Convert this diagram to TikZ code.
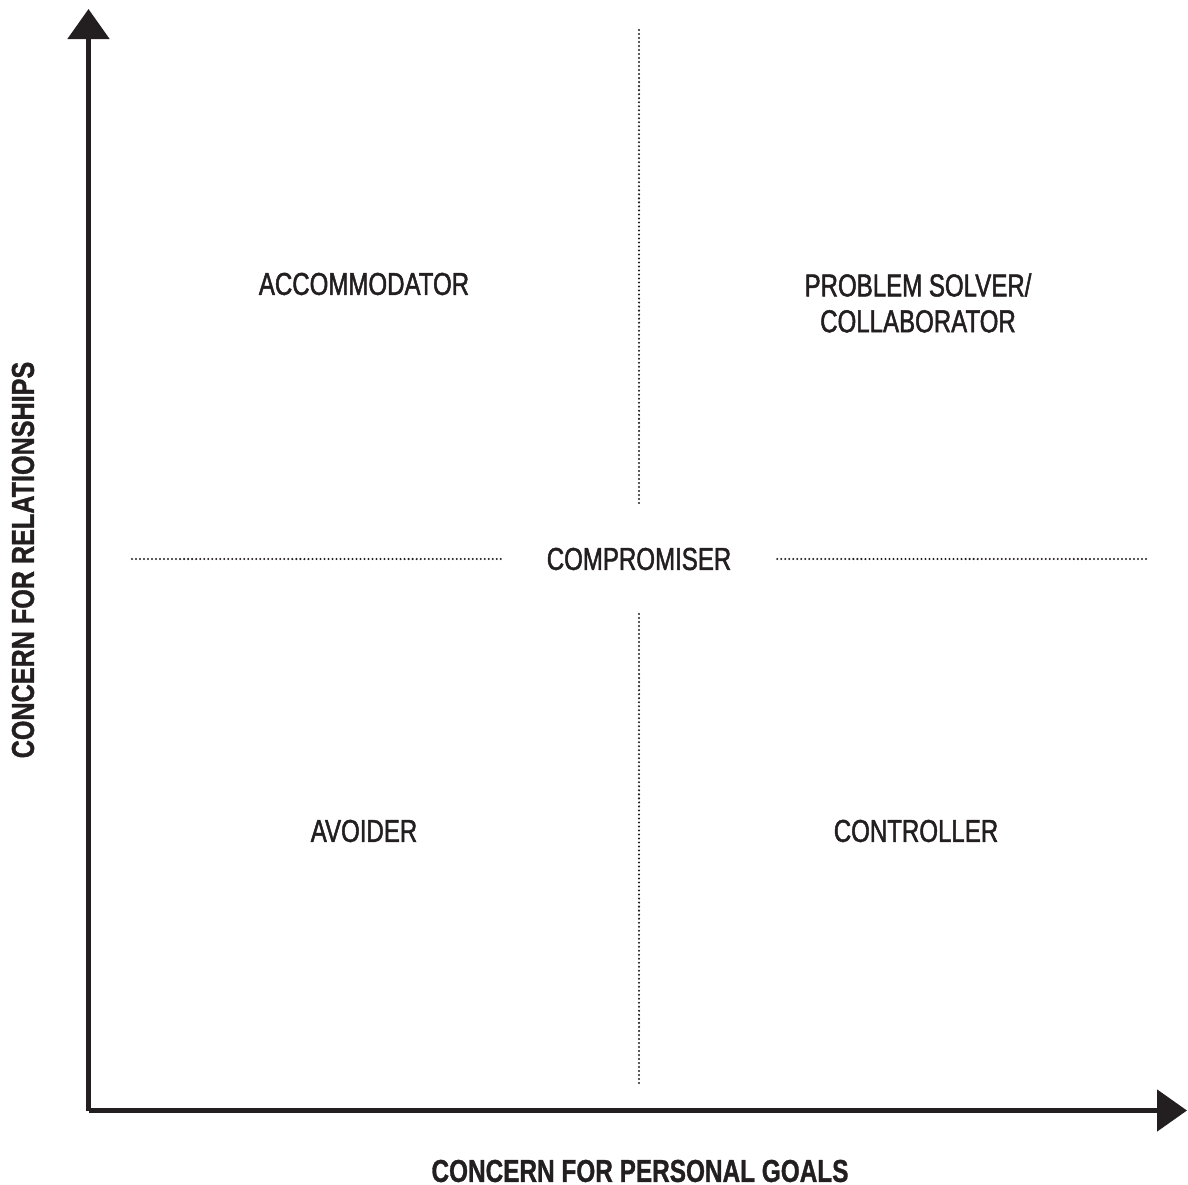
\documentclass[tikz,border=0pt]{standalone}
\usepackage{fontspec}
\setmainfont[FakeStretch=0.77, BoldFeatures={FakeBold=1.0}]{Liberation Sans}
\newfontfamily\quadfont[FakeStretch=0.76, FakeBold=1.5]{Liberation Sans}
\newfontfamily\sidefont[FakeStretch=0.795, BoldFeatures={FakeBold=1.0}]{Liberation Sans}
\usepackage{tikz}
\usepackage{xcolor}
\usetikzlibrary{positioning,arrows.meta}

\definecolor{ink}{HTML}{231F20}

\tikzset{
  axis/.style={draw=ink, line width=1.45pt, -{Triangle[length=0.3cm,width=0.41cm]}},
  divider/.style={draw=ink, line width=0.65pt, line cap=round, dash pattern=on 0pt off 1.14pt},
  quadrant/.style={text=ink, font=\fontsize{9}{10.2}\selectfont\quadfont, align=center, inner sep=0pt},
  axislabel/.style={text=ink, font=\fontsize{9}{10.2}\selectfont\bfseries, inner sep=0pt}
}

\begin{document}
\begin{tikzpicture}[x=0.01cm, y=-0.01cm]
                \useasboundingbox (0,0) rectangle (1188,1185);

                % Nodes
                \node[quadrant] (accom) at (364, 284) {ACCOMMODATOR};   % top left
                \node[quadrant] (solver) at (918, 303) {PROBLEM SOLVER/\\COLLABORATOR}; % top right
                \node[quadrant] (avoid) at (364, 831) {AVOIDER};   % bottom left
                \node[quadrant] (control) at (916, 831) {CONTROLLER}; % bottom right
                \node[quadrant, inner xsep=0.44cm, inner ysep=0.41cm] (comp) at (639, 559) {COMPROMISER}; % centre

                \node[axislabel] (xlab) at (640, 1171) {CONCERN FOR PERSONAL GOALS};
                \node[axislabel, font=\fontsize{9}{10.2}\selectfont\sidefont\bfseries, rotate=90] (ylab) at (23, 560) {CONCERN FOR RELATIONSHIPS};

                \coordinate (origin) at (88.5, 1110.5);
                \coordinate (ytop) at (88.5, 9);
                \coordinate (xend) at (1187, 1110.5);

                \coordinate (vtop) at (639, 30);
                \coordinate (vbot) at (639, 1083);
                \coordinate (hleft) at (132, 559);
                \coordinate (hright) at (1146, 559);

                % Axes
                \draw[axis] (origin) -- (ytop);
                \draw[axis] (origin) -- (xend);

                % Dividers
                \draw[divider] (vtop) -- (comp);
                \draw[divider] (vbot) -- (comp);
                \draw[divider] (hleft) -- (comp);
                \draw[divider] (hright) -- (comp);
            \end{tikzpicture}
\end{document}
